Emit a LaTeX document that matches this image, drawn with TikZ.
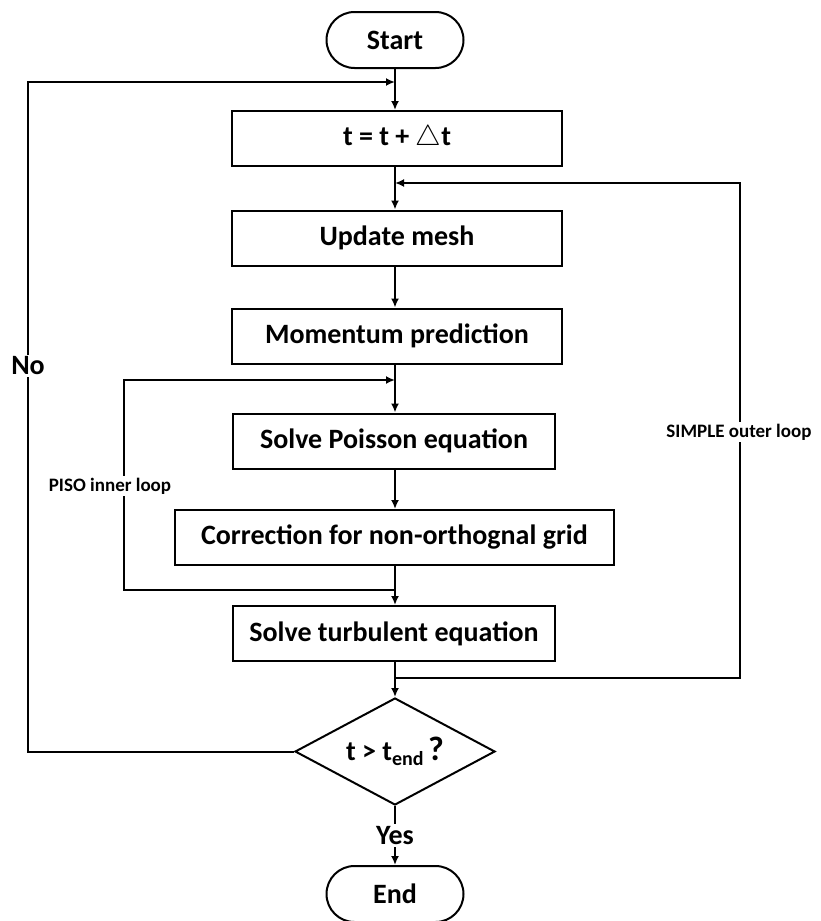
\documentclass[tikz,border=0pt]{standalone}
\usepackage{fontspec}
\setmainfont{Carlito}
\usetikzlibrary{arrows.meta,positioning,calc,shapes.geometric}

\begin{document}
\begin{tikzpicture}[x=0.5pt,y=-0.5pt,
  box/.style={draw,line width=1pt,minimum height=27.5pt,inner sep=2pt,
              align=center,font=\bfseries\fontsize{14}{16}\selectfont},
  term/.style={box,rounded corners=14pt,minimum width=68.5pt,minimum height=28pt},
  cond/.style={box,diamond,aspect=1.86,minimum width=100pt,minimum height=53.5pt,inner sep=0pt},
  lbl/.style={fill=white,inner sep=1pt,font=\bfseries\fontsize{14}{16}\selectfont},
  note/.style={fill=white,inner sep=1pt,font=\bfseries\fontsize{9.5}{11}\selectfont},
  arr/.style={-{Latex[length=4.5pt,width=4pt]},line width=1pt}
]
  \useasboundingbox (0,0) rectangle (820,921);

  % Nodes: one column, centred on x = 395
  \node[term] (start) at (395,40) {Start};
  \node[box,minimum width=165pt] (step)  at (397,138.5) {t = t + $\bigtriangleup$t};
  \node[box,minimum width=165pt] (mesh)  at (397,238)   {Update mesh};
  \node[box,minimum width=165pt] (mom)   at (397,336)   {Momentum prediction};
  \node[box,minimum width=161pt] (poi)   at (394,441)   {Solve Poisson equation};
  \node[box,minimum width=219.5pt] (corr) at (394.5,537.5) {Correction for non-orthognal grid};
  \node[box,minimum width=161pt] (turb)  at (394,633.5) {Solve turbulent equation};
  \node[cond] (check) at (395,751.5) {t > t\raisebox{-0.35ex}{\fontsize{10}{12}\selectfont end}\,\fontsize{17}{18}\selectfont ?};
  \node[term] (stop) at (395,894) {End};

  % junctions on the main line
  \coordinate (tjoin) at (395,82);
  \coordinate (sjoin) at (395,183);
  \coordinate (pjoin) at (395,380);
  \coordinate (pback) at (395,590);
  \coordinate (sback) at (395,678);
  \coordinate (nocorner) at (28,82);
  \coordinate (pcorner) at (124,380);
  \coordinate (scorner) at (740,183);

  % main line, top to bottom
  \draw[arr] (start.south) -- (step.north -| start.south);
  \draw[arr] (step.south -| start) -- (mesh.north -| start);
  \draw[arr] (mesh.south -| start) -- (mom.north -| start);
  \draw[arr] (mom.south -| start) -- (poi.north -| start);
  \draw[arr] (poi.south -| start) -- (corr.north -| start);
  \draw[arr] (corr.south -| start) -- (turb.north -| start);
  \draw[arr] (turb.south -| start) -- (check.north);
  \draw[arr] (check.south) -- node[lbl,pos=0.5] (yes) {Yes} (stop.north);

  % No: back to the time step
  \draw[arr] (check.west) -| (nocorner) -- (tjoin);
  \node[lbl] (no) at (28,366) {No};

  % PISO inner loop
  \draw[arr] (pback) -| (pcorner) -- (pjoin);
  \node[note] (piso) at (110,486) {PISO inner loop};

  % SIMPLE outer loop
  \draw[arr] (sback) -| (scorner) -- (sjoin);
  \node[note] (simple) at (739,432) {SIMPLE outer loop};
\end{tikzpicture}
\end{document}
